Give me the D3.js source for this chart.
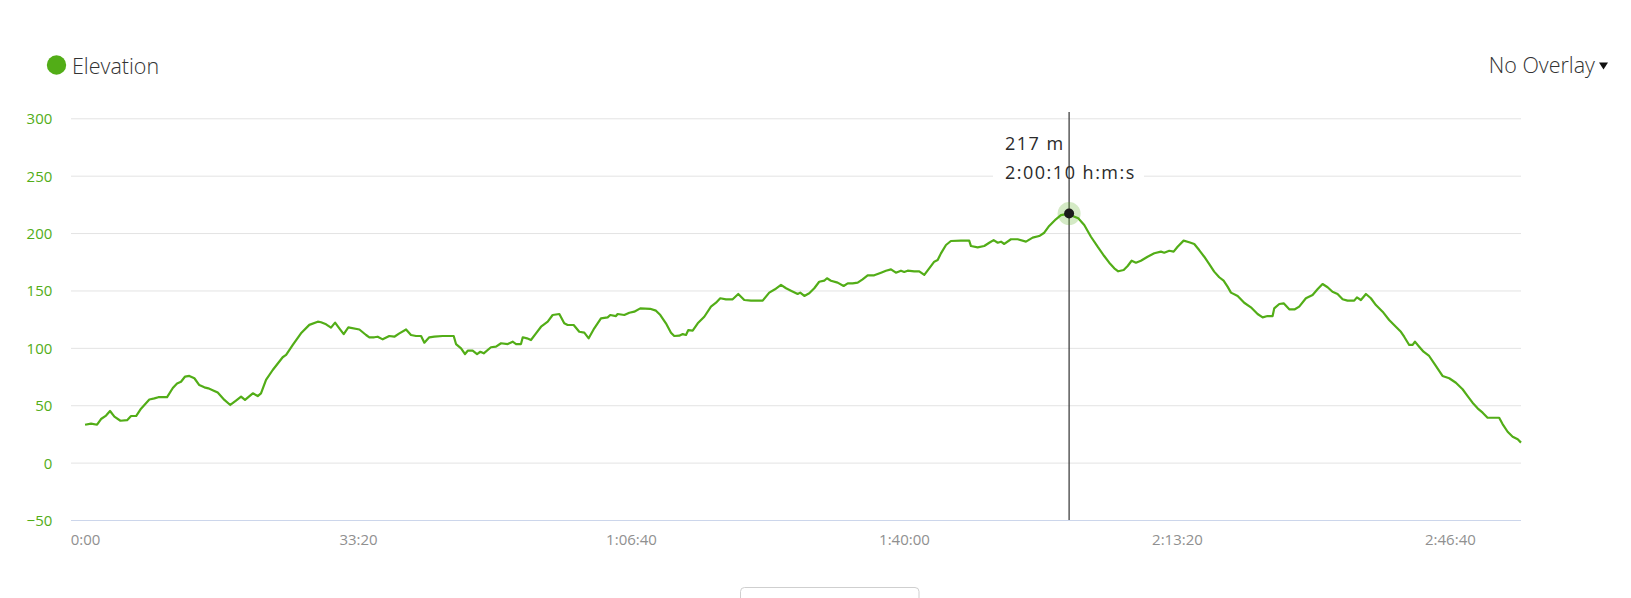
<!DOCTYPE html>
<html>
<head>
<meta charset="utf-8">
<script src="https://cdn.jsdelivr.net/npm/d3@7"></script>
<style>
  html, body { margin: 0; padding: 0; background: #fff; }
  svg { display: block; font-family: "Open Sans", sans-serif; }
</style>
</head>
<body>
<svg id="chart" width="1631" height="598"></svg>
<script>
// ---- data ----
const seriesName = "Elevation";
const overlayLabel = "No Overlay";
const timeSec = [
  0,44,88,117,154,183,215,259,308,337,374,410,471,508,537,601,643,674,703,733,764,801,837,874,903,943,972,1021,1064,1106,1143,1172,1229,1265,1289,1326,1375,1448,1473,1522,1582,1643,1705,1729,1766,1802,1832,1863,1895,1929,2010,
  2059,2083,2119,2144,2181,2229,2266,2303,2352,2388,2425,2462,2486,2522,2559,2620,2701,2718,2755,2784,2804,2840,2872,2896,2921,2974,3011,3048,3097,3133,3158,3194,3207,3238,3267,3304,3341,3390,3426,3475,3511,3536,3580,3621,3658,3690,3731,3780,3829,3848,3890,3902,3951,3988,4024,4068,4140,
  4183,4215,4256,4293,4317,4354,4379,4403,4420,4452,4489,4537,4586,4623,4654,4696,4745,4786,4830,4879,4965,5013,5055,5099,5136,5172,5221,5240,5270,5306,5343,5379,5416,5436,5465,5514,5558,5588,5624,5661,5697,5734,5782,5832,5868,5905,5941,5978,6002,6027,6075,6112,6149,6185,6222,6247,6271,
  6308,6344,6418,6478,6491,6540,6588,6625,6657,6687,6711,6735,6784,6833,6894,6943,6991,7028,7064,7113,7150,7210,7236,7277,7321,7370,7419,7467,7504,7541,7570,7610,7639,7668,7700,7736,7785,7834,7883,7907,7944,7976,8005,8049,8090,8127,8163,8200,8237,8273,8310,8342,8371,8396,
  8445,8493,8542,8591,8628,8664,8701,8713,8750,8782,8823,8864,8896,8945,8994,9030,9067,9104,9140,9177,9214,9250,9299,9319,9348,9385,9421,9458,9507,9555,9604,9641,9665,9702,9727,9744,9775,9807,9848,9897,9946,9995,10044,10093,10130,10166,10203,10240,10276,10361,10386,10423,10460,10497,10521
];
const elevation = [
  33,34,33,38,41,45,40,36.5,37,40.6,40.6,47,55,56,57,57,65,69,70.5,75,75.5,73.5,67.6,65.6,64.7,62.7,61,54.6,50.2,54,57.5,54.6,60.4,58,60.4,72,80.7,91.8,93.8,102.5,112.7,120,122.8,122.3,120.5,117.6,122,117,112,117.9,116,
  111.2,109.2,109.2,109.7,107.4,110.3,109.7,112.6,116,111.2,110.3,110.3,104.5,109.2,109.7,110.3,110.3,103.3,99.6,94.6,97.5,97.5,94.6,96.6,95.2,100.5,101,104,103.3,105.4,103.3,103.3,109.2,108.3,106.8,112.6,118.4,122.8,128.6,129.5,121.4,119.9,119.9,114,113.2,108.3,117,125.7,126.6,128.6,127.7,129.5,128.6,130.6,131.5,134.4,134,
  132.4,128.6,121.4,113.2,110.3,110.6,112,111.2,115.5,115,121.4,127.1,135.9,139.3,143.2,142.3,142.3,146.9,141.7,141.1,141.1,148.1,151,154.8,151.9,149.8,146.9,148.1,145.2,147.5,151.9,157.6,158.5,160.6,158.5,156.8,153.9,156.2,156.2,156.8,159.7,163.2,163.2,165.5,167.2,168.4,165.5,167.2,166.1,167.2,166.7,166.7,163.5,169.3,175.1,176.5,182.3,
  189.6,193.1,193.4,193.4,188.7,187.6,188.7,191.6,193.9,191.6,192.5,190.5,194.6,194.6,192.5,196,197.4,200.3,206.2,212,215.7,217,214.9,212.9,207,196.8,188.1,180,174.2,169.3,166.7,167.8,171.3,175.9,174.2,175.9,179.4,182.4,183.8,182.9,184.6,183.8,188.1,193.4,192,190.5,185.2,179.4,173,166.4,161.5,158.5,153.3,148.1,
  145.2,139.3,135.3,129.5,126.6,127.7,127.7,134.4,138.2,138.8,133.6,133.6,135.9,143.2,146.1,151,155.6,152.8,148.9,146.9,142.3,141.1,141.1,144,141.7,146.9,143.2,137.3,131.5,124.3,118.4,114,109.7,102.5,102.5,105.4,101,96.6,92.9,84.2,75.5,73.5,69.6,63.9,58,52.2,47.3,43.5,39.1,39.1,33.6,26.9,22.6,20.3,17.4
];
const yTicks = [-50, 0, 50, 100, 150, 200, 250, 300];
const xTicks = [0, 2000, 4000, 6000, 8000, 10000];
const hoverTime = 7210;      // 2:00:10
const hoverElevation = 217;  // m

// ---- layout ----
const svg = d3.select("#chart");
const green = "#52ad17";
const plotLeft = 71, plotRight = 1521, plotTop = 118.3, plotBottom = 520;

const x = d3.scaleLinear().domain([-103, 10521]).range([plotLeft, plotRight]);
const y = d3.scaleLinear().domain([-50, 300]).range([plotBottom, plotTop]);

function fmtTime(s) {
  const h = Math.floor(s / 3600), m = Math.floor((s % 3600) / 60), sec = s % 60;
  const p = v => String(v).padStart(2, "0");
  return h > 0 ? `${h}:${p(m)}:${p(sec)}` : `${m}:${p(sec)}`;
}

// gridlines + y labels via axis
const yAxis = d3.axisLeft(y).tickValues(yTicks).tickSize(-(plotRight - plotLeft)).tickPadding(18).tickFormat(d3.format("d"));
const gy = svg.append("g").attr("transform", `translate(${plotLeft},0)`).call(yAxis);
gy.select(".domain").remove();
gy.selectAll(".tick line").attr("stroke", d => d === -50 ? "#ccd6eb" : "#e3e3e3").attr("stroke-width", 1);
gy.selectAll(".tick text").attr("fill", green).attr("font-size", 15).attr("font-family", "Open Sans").attr("dy", "0.36em").attr("x", -18.7);

// x axis labels
const xAxis = d3.axisBottom(x).tickValues(xTicks).tickSize(0).tickPadding(0).tickFormat(fmtTime);
const gx = svg.append("g").attr("transform", `translate(0,${plotBottom})`).call(xAxis);
gx.select(".domain").remove();
gx.selectAll(".tick text").attr("fill", "#909090").attr("font-size", 15).attr("font-family", "Open Sans").attr("dy", 0).attr("y", 24.5);

// tooltip background box
svg.append("rect").attr("x", 993).attr("y", 124).attr("width", 151).attr("height", 62).attr("fill", "#fff");

// line
const line = d3.line().x((d, i) => x(timeSec[i])).y(d => y(d));
svg.append("path").datum(elevation)
  .attr("fill", "none").attr("stroke", green).attr("stroke-width", 2.2)
  .attr("stroke-linejoin", "round").attr("d", line);

// crosshair
svg.append("line").attr("x1", x(hoverTime)).attr("x2", x(hoverTime))
  .attr("y1", 112).attr("y2", plotBottom).attr("stroke", "#333").attr("stroke-width", 1.2);

// hover marker
svg.append("circle").attr("cx", x(hoverTime)).attr("cy", y(hoverElevation)).attr("r", 11.5).attr("fill", green).attr("fill-opacity", 0.25);
svg.append("circle").attr("cx", x(hoverTime)).attr("cy", y(hoverElevation)).attr("r", 5).attr("fill", "#1a1a1a");

// tooltip text
svg.append("text").attr("x", 1005).attr("y", 149.5).attr("font-size", 18).attr("letter-spacing", 1.5).attr("fill", "#2a2a2a").text(`${hoverElevation} m`);
svg.append("text").attr("x", 1005).attr("y", 178.5).attr("font-size", 18).attr("letter-spacing", 1.5).attr("fill", "#2a2a2a").text(`${fmtTime(hoverTime)} h:m:s`);

// legend
svg.append("circle").attr("cx", 56.5).attr("cy", 65).attr("r", 9.7).attr("fill", green);
svg.append("text").attr("x", 72).attr("y", 74).attr("font-size", 21.5).attr("font-weight", 300).attr("fill", "#333").text(seriesName);

// overlay selector
svg.append("text").attr("x", 1595).attr("y", 72.5).attr("text-anchor", "end").attr("font-size", 21.5).attr("font-weight", 300).attr("fill", "#333").text(overlayLabel);
svg.append("path").attr("d", "M1599,62.5 L1608,62.5 L1603.5,69.5 Z").attr("fill", "#111");

// bottom control box (partially visible)
svg.append("rect").attr("x", 740.5).attr("y", 587.5).attr("width", 178.5).attr("height", 30).attr("rx", 4)
  .attr("fill", "#fff").attr("stroke", "#cfcfcf").attr("stroke-width", 1);
</script>
</body>
</html>
